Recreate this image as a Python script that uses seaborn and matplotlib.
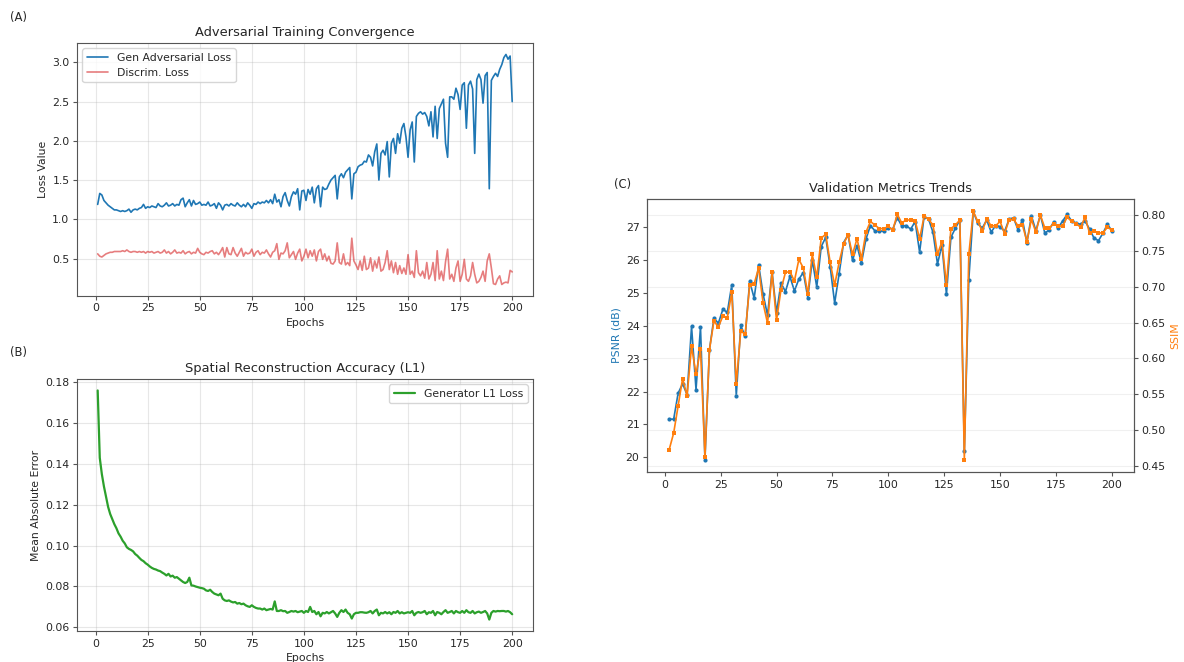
import numpy as np
import seaborn as sns
import matplotlib.pyplot as plt

# ---- data ----
epochs = np.arange(1, 201)

gen_adv_loss = [
    1.19, 1.33, 1.31, 1.24, 1.21, 1.18, 1.16, 1.14, 1.12, 1.12,
    1.11, 1.10, 1.11, 1.10, 1.11, 1.13, 1.09, 1.12, 1.13, 1.12,
    1.14, 1.15, 1.19, 1.14, 1.16, 1.15, 1.17, 1.16, 1.15, 1.20,
    1.17, 1.16, 1.18, 1.21, 1.17, 1.18, 1.20, 1.17, 1.19, 1.18,
    1.25, 1.27, 1.16, 1.21, 1.25, 1.17, 1.24, 1.19, 1.20, 1.22,
    1.18, 1.19, 1.18, 1.22, 1.17, 1.18, 1.20, 1.14, 1.21, 1.18,
    1.12, 1.18, 1.19, 1.17, 1.20, 1.18, 1.17, 1.21, 1.18, 1.16,
    1.19, 1.16, 1.21, 1.18, 1.14, 1.20, 1.19, 1.22, 1.20, 1.22,
    1.21, 1.24, 1.21, 1.25, 1.20, 1.32, 1.22, 1.25, 1.16, 1.29,
    1.34, 1.24, 1.17, 1.29, 1.35, 1.32, 1.39, 1.12, 1.36, 1.37,
    1.24, 1.38, 1.32, 1.41, 1.21, 1.39, 1.43, 1.16, 1.41, 1.38,
    1.39, 1.45, 1.50, 1.53, 1.56, 1.26, 1.54, 1.58, 1.53, 1.60,
    1.63, 1.66, 1.26, 1.58, 1.60, 1.67, 1.69, 1.70, 1.74, 1.73,
    1.82, 1.79, 1.68, 1.86, 1.96, 1.50, 1.84, 1.88, 1.82, 1.99,
    1.54, 1.97, 2.03, 1.84, 2.09, 1.97, 2.16, 2.22, 2.05, 1.79,
    2.14, 2.24, 1.73, 2.31, 2.35, 2.37, 2.34, 2.36, 2.31, 2.19,
    2.37, 2.05, 2.44, 2.03, 2.41, 2.47, 2.53, 1.97, 1.79, 2.56,
    2.56, 2.53, 2.67, 2.59, 2.40, 2.71, 2.74, 2.16, 2.71, 2.76,
    2.66, 1.84, 2.78, 2.85, 2.78, 2.48, 2.83, 2.87, 1.39, 2.77,
    2.82, 2.86, 2.82, 2.91, 2.97, 3.06, 3.10, 3.04, 3.08, 2.50,
]

disc_loss = [
    0.56, 0.53, 0.52, 0.54, 0.56, 0.57, 0.58, 0.58, 0.59, 0.59,
    0.59, 0.59, 0.60, 0.59, 0.61, 0.59, 0.58, 0.59, 0.59, 0.58,
    0.59, 0.58, 0.59, 0.57, 0.59, 0.58, 0.59, 0.57, 0.58, 0.59,
    0.57, 0.58, 0.61, 0.57, 0.59, 0.56, 0.58, 0.61, 0.57, 0.58,
    0.57, 0.60, 0.56, 0.58, 0.59, 0.56, 0.58, 0.57, 0.63, 0.58,
    0.56, 0.55, 0.58, 0.57, 0.59, 0.60, 0.56, 0.58, 0.55, 0.59,
    0.64, 0.52, 0.64, 0.56, 0.55, 0.64, 0.57, 0.53, 0.58, 0.63,
    0.53, 0.58, 0.56, 0.57, 0.62, 0.53, 0.58, 0.60, 0.55, 0.58,
    0.57, 0.61, 0.56, 0.52, 0.58, 0.60, 0.69, 0.49, 0.57, 0.56,
    0.60, 0.70, 0.51, 0.55, 0.59, 0.49, 0.57, 0.62, 0.47, 0.53,
    0.62, 0.51, 0.60, 0.53, 0.61, 0.47, 0.59, 0.62, 0.49, 0.56,
    0.47, 0.53, 0.44, 0.43, 0.47, 0.70, 0.45, 0.43, 0.56, 0.42,
    0.45, 0.41, 0.76, 0.47, 0.42, 0.36, 0.47, 0.35, 0.53, 0.36,
    0.38, 0.51, 0.34, 0.47, 0.38, 0.52, 0.34, 0.36, 0.45, 0.60,
    0.36, 0.47, 0.32, 0.45, 0.30, 0.41, 0.31, 0.38, 0.30, 0.55,
    0.30, 0.34, 0.26, 0.60, 0.32, 0.28, 0.34, 0.25, 0.45, 0.24,
    0.30, 0.45, 0.22, 0.60, 0.24, 0.34, 0.22, 0.46, 0.62, 0.24,
    0.30, 0.21, 0.38, 0.47, 0.21, 0.30, 0.49, 0.24, 0.21, 0.28,
    0.45, 0.30, 0.19, 0.21, 0.26, 0.34, 0.21, 0.47, 0.56, 0.38,
    0.18, 0.17, 0.24, 0.28, 0.17, 0.19, 0.20, 0.19, 0.35, 0.33,
]

l1_loss = [
    0.1760, 0.1430, 0.1350, 0.1290, 0.1240, 0.1190, 0.1155, 0.1130, 0.1105, 0.1085,
    0.1060, 0.1044, 0.1024, 0.1011, 0.0992, 0.0984, 0.0979, 0.0972, 0.0959, 0.0951,
    0.0940, 0.0930, 0.0924, 0.0914, 0.0907, 0.0898, 0.0891, 0.0886, 0.0883, 0.0878,
    0.0875, 0.0868, 0.0862, 0.0854, 0.0862, 0.0849, 0.0853, 0.0843, 0.0846, 0.0838,
    0.0830, 0.0822, 0.0817, 0.0822, 0.0843, 0.0805, 0.0804, 0.0800, 0.0797, 0.0794,
    0.0792, 0.0789, 0.0781, 0.0778, 0.0784, 0.0773, 0.0765, 0.0761, 0.0757, 0.0765,
    0.0740, 0.0732, 0.0729, 0.0732, 0.0726, 0.0722, 0.0724, 0.0716, 0.0719, 0.0713,
    0.0716, 0.0708, 0.0703, 0.0700, 0.0708, 0.0700, 0.0695, 0.0692, 0.0692, 0.0687,
    0.0692, 0.0684, 0.0687, 0.0690, 0.0687, 0.0727, 0.0680, 0.0680, 0.0684, 0.0679,
    0.0680, 0.0671, 0.0675, 0.0680, 0.0677, 0.0680, 0.0674, 0.0677, 0.0680, 0.0671,
    0.0680, 0.0675, 0.0700, 0.0675, 0.0680, 0.0664, 0.0675, 0.0654, 0.0671, 0.0668,
    0.0675, 0.0668, 0.0674, 0.0680, 0.0668, 0.0651, 0.0671, 0.0684, 0.0675, 0.0687,
    0.0671, 0.0664, 0.0643, 0.0664, 0.0671, 0.0671, 0.0674, 0.0674, 0.0672, 0.0671,
    0.0674, 0.0680, 0.0668, 0.0680, 0.0687, 0.0659, 0.0671, 0.0668, 0.0675, 0.0668,
    0.0674, 0.0664, 0.0675, 0.0671, 0.0680, 0.0668, 0.0674, 0.0668, 0.0671, 0.0674,
    0.0671, 0.0680, 0.0659, 0.0671, 0.0675, 0.0671, 0.0674, 0.0680, 0.0664, 0.0674,
    0.0671, 0.0680, 0.0659, 0.0675, 0.0671, 0.0664, 0.0675, 0.0684, 0.0671, 0.0675,
    0.0680, 0.0668, 0.0680, 0.0674, 0.0671, 0.0680, 0.0671, 0.0684, 0.0674, 0.0671,
    0.0680, 0.0668, 0.0674, 0.0677, 0.0671, 0.0675, 0.0680, 0.0668, 0.0638, 0.0671,
    0.0680, 0.0677, 0.0680, 0.0679, 0.0680, 0.0680, 0.0677, 0.0680, 0.0674, 0.0664,
]

val_epochs = np.arange(2, 201, 2)

psnr = [
    21.16, 21.16, 21.95, 22.24, 21.90, 23.98, 22.06, 23.96, 19.93, 23.27,
    24.23, 24.08, 24.50, 24.41, 25.25, 21.87, 24.01, 23.68, 25.35, 24.84,
    25.86, 24.96, 24.32, 25.65, 24.39, 25.30, 25.04, 25.50, 25.06, 25.42,
    25.62, 24.86, 26.00, 25.18, 26.41, 26.69, 25.80, 24.69, 25.58, 26.53,
    26.77, 25.99, 26.44, 25.91, 26.64, 27.05, 26.89, 26.89, 26.87, 26.99,
    26.94, 27.29, 27.04, 27.05, 26.94, 27.17, 26.24, 27.32, 27.25, 26.84,
    25.88, 26.46, 24.96, 26.69, 26.97, 27.22, 20.18, 25.40, 27.48, 27.12,
    26.97, 27.22, 26.85, 27.05, 27.02, 26.87, 27.24, 27.29, 26.92, 27.22,
    26.53, 27.35, 26.89, 27.37, 26.82, 26.92, 27.17, 26.99, 27.19, 27.39,
    27.19, 27.12, 27.09, 27.19, 26.94, 26.67, 26.59, 26.82, 27.09, 26.89,
]

ssim = [
    0.473, 0.496, 0.534, 0.572, 0.548, 0.617, 0.578, 0.613, 0.463, 0.612,
    0.652, 0.644, 0.659, 0.657, 0.692, 0.564, 0.638, 0.634, 0.703, 0.704,
    0.726, 0.677, 0.649, 0.720, 0.653, 0.696, 0.720, 0.721, 0.708, 0.738,
    0.726, 0.690, 0.745, 0.713, 0.768, 0.773, 0.734, 0.702, 0.734, 0.760,
    0.772, 0.745, 0.767, 0.739, 0.776, 0.791, 0.786, 0.781, 0.781, 0.784,
    0.779, 0.801, 0.789, 0.793, 0.793, 0.792, 0.767, 0.798, 0.794, 0.786,
    0.745, 0.763, 0.702, 0.781, 0.786, 0.793, 0.459, 0.745, 0.805, 0.791,
    0.778, 0.794, 0.785, 0.785, 0.791, 0.774, 0.793, 0.794, 0.785, 0.786,
    0.763, 0.794, 0.776, 0.800, 0.782, 0.782, 0.788, 0.784, 0.785, 0.797,
    0.791, 0.788, 0.783, 0.797, 0.775, 0.777, 0.775, 0.775, 0.783, 0.779,
]

# ---- style ----
sns.set_style('ticks')
plt.rcParams['font.family'] = ['DejaVu Sans']
plt.rcParams['font.size'] = 7.8
plt.rcParams['axes.linewidth'] = 0.8
plt.rcParams['axes.edgecolor'] = '#555555'
plt.rcParams['axes.labelpad'] = 3.1
plt.rcParams['axes.titlepad'] = 4.7
plt.rcParams['xtick.major.pad'] = 2.7
plt.rcParams['ytick.major.pad'] = 2.7

TITLE = 9.4
FS = 7.8

fig = plt.figure(figsize=(11.84, 6.62), dpi=100)

# (A) adversarial losses
axA = fig.add_axes([0.0650, 0.5529, 0.3851, 0.3822])
sns.lineplot(x=epochs, y=gen_adv_loss, ax=axA, color='tab:blue', linewidth=1.2,
             label='Gen Adversarial Loss')
sns.lineplot(x=epochs, y=disc_loss, ax=axA, color='tab:red', alpha=0.6, linewidth=1.2,
             label='Discrim. Loss')
axA.set_title('Adversarial Training Convergence', fontsize=TITLE)
axA.set_xlabel('Epochs', fontsize=FS)
axA.set_ylabel('Loss Value', fontsize=FS)
axA.legend(loc='upper left', fontsize=FS)
axA.grid(True, alpha=0.3, color='#b0b0b0')

# (B) L1 reconstruction
axB = fig.add_axes([0.0650, 0.0468, 0.3851, 0.3807])
sns.lineplot(x=epochs, y=l1_loss, ax=axB, color='tab:green', linewidth=1.6,
             label='Generator L1 Loss')
axB.set_title('Spatial Reconstruction Accuracy (L1)', fontsize=TITLE)
axB.set_xlabel('Epochs', fontsize=FS)
axB.set_ylabel('Mean Absolute Error', fontsize=FS)
axB.legend(loc='upper right', fontsize=FS)
axB.grid(True, alpha=0.3, color='#b0b0b0')

# (C) validation metrics, twin axes
axC = fig.add_axes([0.5465, 0.2870, 0.4113, 0.4124])
sns.lineplot(x=val_epochs, y=psnr, ax=axC, color='tab:blue', linewidth=1.2,
             marker='o', markersize=3, markeredgewidth=0)
axC.set_ylabel('PSNR (dB)', color='tab:blue', fontsize=FS)
axC.set_title('Validation Metrics Trends', fontsize=TITLE)
axC.grid(False)
axC2 = axC.twinx()
sns.lineplot(x=val_epochs, y=ssim, ax=axC2, color='tab:orange', linewidth=1.2,
             marker='s', markersize=3, markeredgewidth=0)
axC2.set_ylabel('SSIM', color='tab:orange', fontsize=FS)
axC2.yaxis.grid(True, alpha=0.18, color='#b0b0b0')
axC2.xaxis.grid(False)

for ax in (axA, axB, axC, axC2):
    ax.tick_params(labelsize=FS, length=2.7, width=0.8, color='#555555')

fig.text(10 / 1184, 1 - 17 / 662, '(A)', fontsize=8.4, va='center')
fig.text(10 / 1184, 1 - 353 / 662, '(B)', fontsize=8.4, va='center')
fig.text(614 / 1184, 1 - 185 / 662, '(C)', fontsize=8.4, va='center')

fig.savefig('out.png', dpi=100)
